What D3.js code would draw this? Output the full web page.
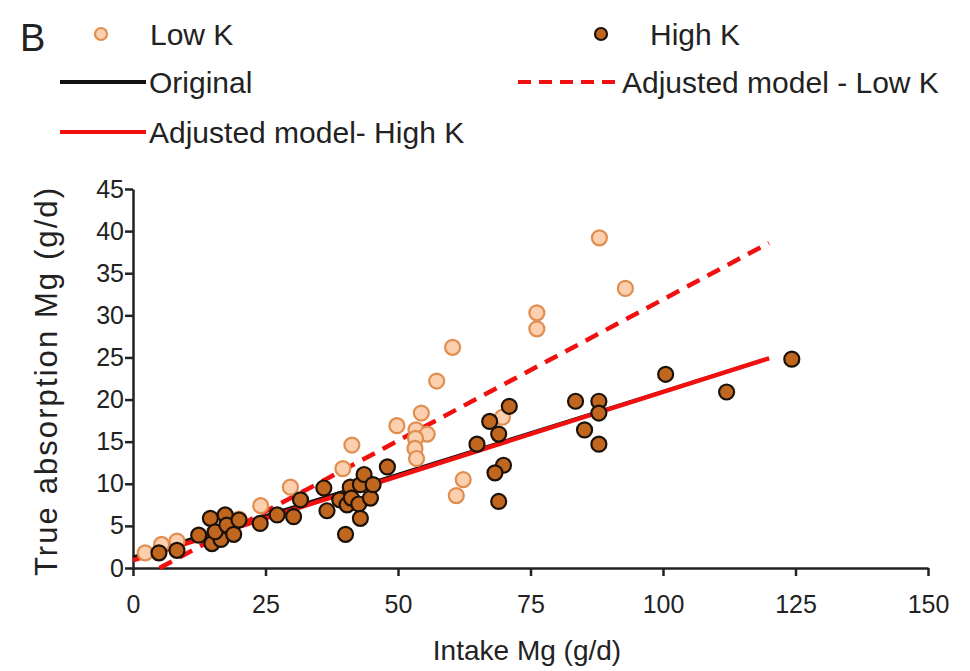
<!DOCTYPE html>
<html>
<head>
<meta charset="utf-8">
<script src="https://cdn.jsdelivr.net/npm/d3@7"></script>
<style>
body { margin: 0; background: #fff; }
svg text { font-family: "Liberation Sans", Arial, sans-serif; fill: #222; }
</style>
</head>
<body>
<svg id="chart" width="970" height="671"></svg>
<script>
// intake Mg (g/d), true absorption Mg (g/d)
var lowK = [
	[2.3,1.8],[5.4,2.8],[8.3,3.2],[20.0,5.8],[24.1,7.4],[29.7,9.6],[39.6,11.8],[41.3,14.6],
	[49.8,16.9],[53.4,16.4],[55.5,15.9],[53.3,15.4],[53.2,14.2],[53.5,13.0],[54.4,18.4],
	[57.3,22.2],[60.3,26.2],[62.3,10.5],[61.0,8.6],[69.7,17.9],[76.2,30.3],[76.2,28.4],
	[88.0,39.2],[92.9,33.2]
];
var highK = [
	[4.9,1.8],[8.3,2.1],[12.4,3.9],[14.9,2.9],[16.6,3.4],[14.6,5.9],[17.4,6.3],[15.5,4.3],
	[17.7,5.1],[19.0,4.0],[20.0,5.7],[24.0,5.3],[27.2,6.3],[30.3,6.1],[31.6,8.1],[36.0,9.5],
	[36.6,6.8],[39.0,8.1],[40.4,7.5],[40.1,4.0],[41.0,9.6],[41.2,8.3],[42.6,7.6],[42.9,5.9],
	[42.9,9.9],[43.6,11.1],[44.8,8.3],[45.3,9.9],[48.0,12.0],[64.9,14.7],[67.3,17.4],
	[69.0,15.9],[71.0,19.2],[69.9,12.2],[68.3,11.3],[69.0,7.9],[83.5,19.8],[87.9,19.8],
	[87.9,18.4],[85.2,16.4],[87.9,14.7],[100.5,23.0],[112.0,20.9],[124.3,24.8]
];
// fitted lines, [x, y] end points
var originalLine = [[0,1.3],[120,24.9]];
var adjHighLine = [[0,0.9],[120,24.9]];
var adjLowLine = [[5.0,0.0],[120,38.6]];

var xTicks = [0,25,50,75,100,125,150];
var yTicks = [0,5,10,15,20,25,30,35,40,45];

var svg = d3.select("#chart");
var x = d3.scaleLinear().domain([0,150]).range([133,928]);
var y = d3.scaleLinear().domain([0,45]).range([568,189]);

var line = d3.line().x(function(d){ return x(d[0]); }).y(function(d){ return y(d[1]); });

// axes
var xAxis = svg.append("g").attr("transform","translate(0,568)")
	.call(d3.axisBottom(x).tickValues(xTicks).tickSize(8).tickPadding(19).tickSizeOuter(0));
var yAxis = svg.append("g").attr("transform","translate(133,0)")
	.call(d3.axisLeft(y).tickValues(yTicks).tickSize(8).tickPadding(1).tickSizeOuter(0));
[xAxis, yAxis].forEach(function(a){
	a.select(".domain").attr("stroke","#222").attr("stroke-width",2.5);
	a.selectAll(".tick line").attr("stroke","#222").attr("stroke-width",2.5);
	a.selectAll(".tick text").attr("font-size",25).attr("fill","#222")
		.style("font-family","'Liberation Sans', Arial, sans-serif");
});

svg.append("text").attr("x",527).attr("y",660).attr("text-anchor","middle")
	.attr("font-size",28).text("Intake Mg (g/d)");
svg.append("text").attr("transform","translate(57,382) rotate(-90)").attr("text-anchor","middle")
	.attr("font-size",31).attr("textLength",388).attr("lengthAdjust","spacing")
	.text("True absorption Mg (g/d)");

// lines
svg.append("path").datum(originalLine).attr("d",line)
	.attr("fill","none").attr("stroke","#111").attr("stroke-width",3);
svg.append("path").datum(adjHighLine).attr("d",line)
	.attr("fill","none").attr("stroke","#f01010").attr("stroke-width",4.5);
svg.append("path").datum(adjLowLine).attr("d",line)
	.attr("fill","none").attr("stroke","#f01010").attr("stroke-width",4.5)
	.attr("stroke-dasharray","14 9");

// points
svg.append("g").selectAll("circle").data(lowK).enter().append("circle")
	.attr("cx",function(d){ return x(d[0]); })
	.attr("cy",function(d){ return y(d[1]); })
	.attr("r",7.5)
	.attr("fill","#fccfae").attr("stroke","#e08e50").attr("stroke-width",2.2);
svg.append("g").selectAll("circle").data(highK).enter().append("circle")
	.attr("cx",function(d){ return x(d[0]); })
	.attr("cy",function(d){ return y(d[1]); })
	.attr("r",7.5)
	.attr("fill","#c0661f").attr("stroke","#1a1208").attr("stroke-width",2.2);

// legend
var lg = svg.append("g");
lg.append("text").attr("x",20).attr("y",51).attr("font-size",38).text("B");
lg.append("circle").attr("cx",101).attr("cy",34).attr("r",6)
	.attr("fill","#fccfae").attr("stroke","#e08e50").attr("stroke-width",2.2);
lg.append("text").attr("x",150).attr("y",45).attr("font-size",30).text("Low K");
lg.append("circle").attr("cx",601).attr("cy",34).attr("r",6)
	.attr("fill","#c0661f").attr("stroke","#1a1208").attr("stroke-width",2.2);
lg.append("text").attr("x",650).attr("y",45).attr("font-size",30).text("High K");
lg.append("line").attr("x1",60).attr("x2",146).attr("y1",82).attr("y2",82)
	.attr("stroke","#111").attr("stroke-width",4);
lg.append("text").attr("x",149).attr("y",93).attr("font-size",30).text("Original");
lg.append("line").attr("x1",518).attr("x2",619).attr("y1",82).attr("y2",82)
	.attr("stroke","#f01010").attr("stroke-width",4).attr("stroke-dasharray","13 8");
lg.append("text").attr("x",622).attr("y",93).attr("font-size",30).text("Adjusted model - Low K");
lg.append("line").attr("x1",60).attr("x2",146).attr("y1",132).attr("y2",132)
	.attr("stroke","#f01010").attr("stroke-width",4);
lg.append("text").attr("x",149).attr("y",143).attr("font-size",30).text("Adjusted model- High K");
</script>
</body>
</html>
